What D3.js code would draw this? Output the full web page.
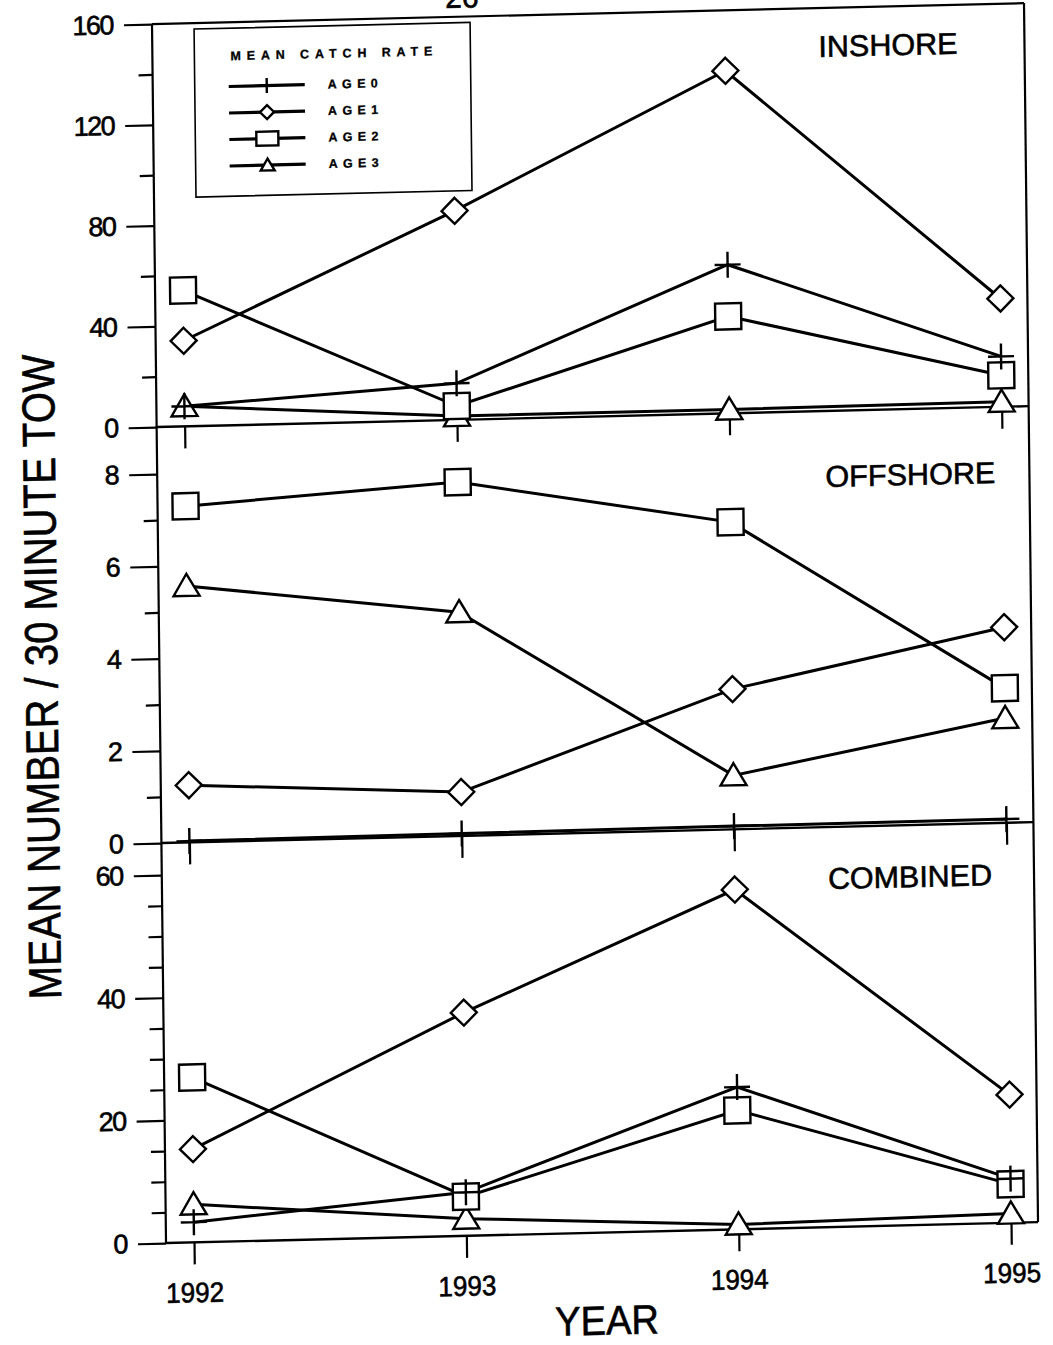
<!DOCTYPE html>
<meta charset="utf-8">
<style>

body {
  margin: 0;
  background: white;
}

svg text {
  font-family: "Liberation Sans Narrow", "Liberation Sans", Arial, sans-serif;
  fill: #000;
  stroke: #000;
  stroke-width: 0.6px;
}

.axis line,
.frame line {
  stroke: #000;
  stroke-width: 2.2px;
}

.series .line {
  fill: none;
  stroke: #000;
  stroke-width: 3px;
}

.marker {
  fill: #fff;
  stroke: #000;
  stroke-width: 2.4px;
}

.marker.plus {
  fill: none;
}

.legend rect {
  fill: none;
  stroke: #000;
  stroke-width: 1.6px;
}

.legend text {
  font-family: "Liberation Sans", Arial, sans-serif;
  font-weight: bold;
  font-size: 12.5px;
  stroke-width: 0.3px;
}

</style>
<svg></svg>
<script src="https://cdn.jsdelivr.net/npm/d3@7"></script>
<script>

var width = 1053;
var height = 1345;

// values (mean number / 30 minute tow)
var years = [1992, 1993, 1994, 1995];
var ageNames = ['AGE0', 'AGE1', 'AGE2', 'AGE3'];

var inshoreAge0 = [8, 14.5, 59, 20];
var inshoreAge1 = [34, 83, 136, 43];
var inshoreAge2 = [54, 5.5, 38.5, 12.5];
var inshoreAge3 = [8, 1.5, 1.5, 2];

var offshoreAge0 = [0.03, 0.05, 0.07, 0.08];
var offshoreAge1 = [1.24, 0.95, 3.04, 4.24];
var offshoreAge2 = [7.29, 7.67, 6.66, 2.92];
var offshoreAge3 = [5.56, 4.85, 1.17, 2.27];

var combinedAge0 = [3.3, 7.1, 23.2, 7.2];
var combinedAge1 = [15.2, 36.4, 55.4, 20.9];
var combinedAge2 = [26.9, 6.4, 19.4, 6.3];
var combinedAge3 = [6.2, 2.8, 0.8, 1.5];

var axisX = 152;
var rightX = 1024;
var topY = 24;

var panels = [
  { name: 'INSHORE', top: topY, zero: 427, max: 160, maxY: 24, major: 40, minor: 20,
    labelX: 818, labelY: 73, labelW: 139,
    values: [inshoreAge0, inshoreAge1, inshoreAge2, inshoreAge3] },
  { name: 'OFFSHORE', top: 427, zero: 843, max: 8, maxY: 474, major: 2, minor: 1,
    labelX: 820, labelY: 503, labelW: 170,
    values: [offshoreAge0, offshoreAge1, offshoreAge2, offshoreAge3] },
  { name: 'COMBINED', top: 843, zero: 1243, max: 60, maxY: 875, major: 20, minor: 5,
    labelX: 818, labelY: 905, labelW: 164,
    values: [combinedAge0, combinedAge1, combinedAge2, combinedAge3] }
];

var x = d3.scalePoint().domain(years).range([180, 997]);

// marker shapes, centred on the data point
function markerPath(age, s) {
  if (age === 'AGE0') return 'M' + (-s / 2) + ',0H' + (s / 2) + 'M0,' + (-s / 2) + 'V' + (s / 2);
  if (age === 'AGE1') return 'M0,' + (-s / 2) + 'L' + (s / 2) + ',0L0,' + (s / 2) + 'L' + (-s / 2) + ',0Z';
  if (age === 'AGE2') return 'M' + (-s / 2) + ',' + (-s / 2) + 'h' + s + 'v' + s + 'h' + (-s) + 'Z';
  var h = s * 0.85;
  return 'M0,' + (-0.55 * h) + 'L' + (s / 2) + ',' + (0.45 * h) + 'L' + (-s / 2) + ',' + (0.45 * h) + 'Z';
}

var svg = d3.select('svg')
  .attr('width', width)
  .attr('height', height);

// the scanned page is slightly tilted and sheared; reproduce that on the whole figure
var page = svg.append('g')
  .attr('transform', 'matrix(1,-0.024,0.0115,1,' + (-0.0115 * topY) + ',' + (0.024 * 155) + ')');

// page number, cut by the top of the scan
page.append('text')
  .attr('x', 462)
  .attr('y', 15)
  .attr('text-anchor', 'middle')
  .style('font-size', '30px')
  .text('26');

var frame = page.append('g').attr('class', 'frame');
frame.append('line').attr('x1', axisX).attr('x2', rightX).attr('y1', topY).attr('y2', topY);
frame.append('line').attr('x1', axisX).attr('x2', axisX).attr('y1', topY).attr('y2', 1243);
frame.append('line').attr('x1', rightX).attr('x2', rightX).attr('y1', topY).attr('y2', 1243);

panels.forEach(function (p, pi) {
  var y = d3.scaleLinear().domain([0, p.max]).range([p.zero, p.maxY]);
  var g = page.append('g').attr('class', 'panel');

  var majors = d3.range(0, p.max + p.major / 2, p.major);
  var minors = d3.range(0, p.max + p.minor / 2, p.minor).filter(function (v) { return v % p.major !== 0; });

  g.append('g')
    .attr('class', 'axis')
    .attr('transform', 'translate(' + axisX + ',0)')
    .call(d3.axisLeft(y).tickValues(minors).tickSize(14).tickFormat(''))
    .call(function (a) { a.select('.domain').remove(); });

  var yAxis = g.append('g')
    .attr('class', 'axis')
    .attr('transform', 'translate(' + axisX + ',0)')
    .call(d3.axisLeft(y).tickValues(majors).tickSize(28).tickPadding(11).tickFormat(d3.format('d')));
  yAxis.select('.domain').remove();
  yAxis.selectAll('text')
    .style('font-family', '"Liberation Sans", Arial, sans-serif')
    .style('font-size', '27px')
    .style('letter-spacing', '-1.5px');

  // zero line closing the panel
  g.append('line')
    .attr('x1', axisX).attr('x2', rightX)
    .attr('y1', p.zero).attr('y2', p.zero)
    .style('stroke', '#000').style('stroke-width', '2.4px');

  var xAxis = g.append('g')
    .attr('class', 'axis')
    .attr('transform', 'translate(0,' + p.zero + ')')
    .call(d3.axisBottom(x).tickSize(22).tickPadding(18).tickFormat(pi === panels.length - 1 ? d3.format('d') : ''));
  xAxis.select('.domain').remove();
  xAxis.selectAll('text')
    .style('font-size', '28px')
    .attr('textLength', 58)
    .attr('lengthAdjust', 'spacingAndGlyphs');

  g.append('text')
    .attr('x', p.labelX)
    .attr('y', p.labelY)
    .attr('textLength', p.labelW)
    .attr('lengthAdjust', 'spacingAndGlyphs')
    .style('font-size', '30px')
    .text(p.name);

  var series = ageNames.map(function (age, i) {
    return { age: age, points: years.map(function (yr, j) { return { year: yr, value: p.values[i][j] }; }) };
  });

  var line = d3.line()
    .x(function (d) { return x(d.year); })
    .y(function (d) { return y(d.value); });

  var sg = g.append('g').attr('class', 'series');
  sg.selectAll('.line')
    .data(series)
    .enter().append('path')
    .attr('class', 'line')
    .attr('d', function (d) { return line(d.points); });

  // plus markers last so they show through the open shapes
  var drawOrder = [series[3], series[1], series[2], series[0]];
  drawOrder.forEach(function (s) {
    sg.selectAll(null)
      .data(s.points)
      .enter().append('path')
      .attr('class', s.age === 'AGE0' ? 'marker plus' : 'marker')
      .attr('transform', function (d) { return 'translate(' + x(d.year) + ',' + y(d.value) + ')'; })
      .attr('d', markerPath(s.age, 26));
  });
});

// legend
var legend = page.append('g').attr('class', 'legend');
legend.append('rect')
  .attr('x', 194).attr('y', 30)
  .attr('width', 276).attr('height', 168);
legend.append('text')
  .attr('x', 230).attr('y', 62)
  .attr('textLength', 202)
  .attr('lengthAdjust', 'spacing')
  .text('MEAN CATCH RATE');

var legendRow = d3.scaleBand().domain(ageNames).range([75, 181]);
var entry = legend.selectAll('.entry')
  .data(ageNames)
  .enter().append('g')
  .attr('class', 'entry')
  .attr('transform', function (d) { return 'translate(0,' + (legendRow(d) + legendRow.bandwidth() / 2) + ')'; });

entry.append('line')
  .attr('x1', 228).attr('x2', 304)
  .style('stroke', '#000').style('stroke-width', '3.2px');

entry.append('path')
  .attr('class', function (d) { return d === 'AGE0' ? 'marker plus' : 'marker'; })
  .attr('transform', 'translate(266,0)')
  .attr('d', function (d) {
    if (d === 'AGE2') return 'M-11,-7h22v14h-22Z';
    return markerPath(d, d === 'AGE0' ? 15 : 14);
  });

entry.append('text')
  .attr('x', 327)
  .attr('dy', '0.35em')
  .attr('textLength', 50)
  .attr('lengthAdjust', 'spacing')
  .text(function (d) { return d; });

// axis titles
page.append('text')
  .attr('transform', 'translate(50,674) rotate(-90)')
  .attr('text-anchor', 'middle')
  .attr('textLength', 645)
  .attr('lengthAdjust', 'spacingAndGlyphs')
  .style('font-size', '46px')
  .text('MEAN NUMBER / 30 MINUTE TOW');

page.append('text')
  .attr('x', 592)
  .attr('y', 1345)
  .attr('text-anchor', 'middle')
  .attr('textLength', 104)
  .attr('lengthAdjust', 'spacingAndGlyphs')
  .style('font-size', '41px')
  .text('YEAR');

</script>
